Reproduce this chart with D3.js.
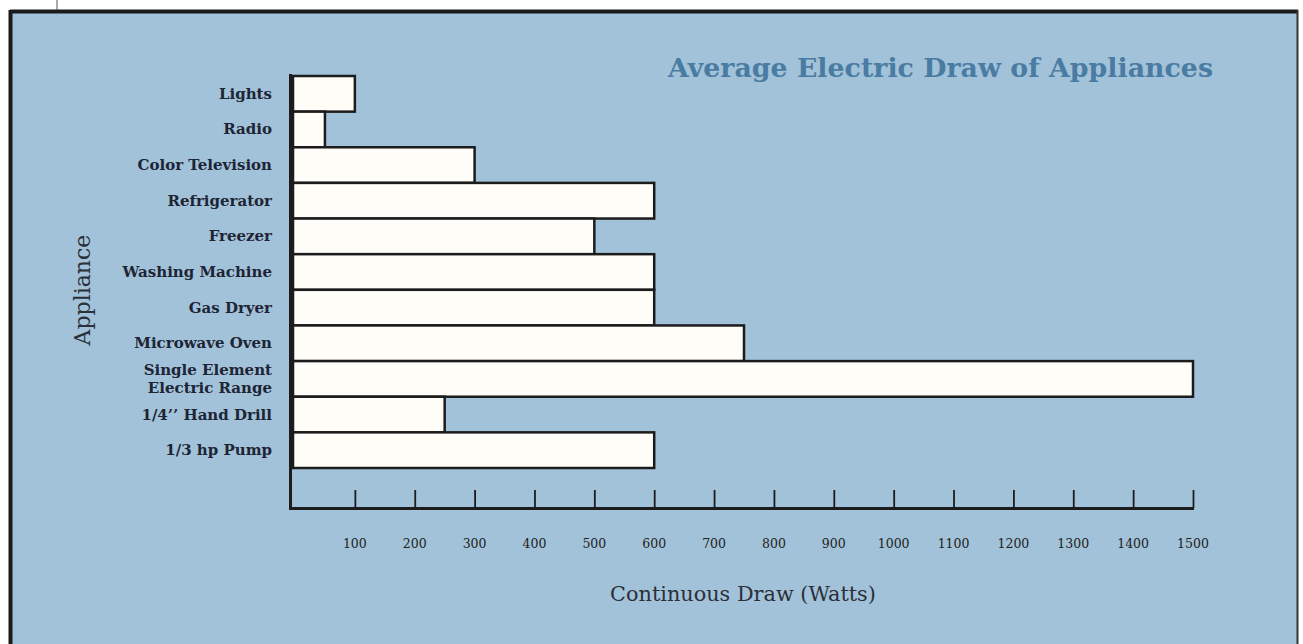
<!DOCTYPE html>
<html><head><meta charset="utf-8">
<script src="https://cdn.jsdelivr.net/npm/d3@7/dist/d3.min.js"></script>
<style>html,body{margin:0;padding:0;background:#fff;}svg{display:block;}</style>
</head><body>
<script>
const categories = ["Lights","Radio","Color Television","Refrigerator","Freezer","Washing Machine","Gas Dryer","Microwave Oven","Single Element\nElectric Range","1/4\u2019\u2019 Hand Drill","1/3 hp Pump"];
const watts = [100, 50, 300, 600, 500, 600, 600, 750, 1500, 250, 600];
const tickValues = [100,200,300,400,500,600,700,800,900,1000,1100,1200,1300,1400,1500];
const title = "Average Electric Draw of Appliances";
const xTitle = "Continuous Draw (Watts)";
const yTitle = "Appliance";

const W = 1303, H = 644;
const svg = d3.select("body").append("svg").attr("width", W).attr("height", H);
const serif = "'DejaVu Serif','Liberation Serif',serif";

// panel background
svg.append("rect").attr("x",10).attr("y",11).attr("width",1288).attr("height",H)
  .attr("fill","#a2c2d9");
// frame
svg.append("line").attr("x1",10).attr("x2",1298).attr("y1",11.5).attr("y2",11.5).attr("stroke","#1a1a1a").attr("stroke-width",4);
svg.append("line").attr("x1",10.5).attr("x2",10.5).attr("y1",10).attr("y2",H).attr("stroke","#1a1a1a").attr("stroke-width",4);
svg.append("line").attr("x1",1297.5).attr("x2",1297.5).attr("y1",10).attr("y2",H).attr("stroke","#333").attr("stroke-width",2);
svg.append("line").attr("x1",57).attr("x2",57).attr("y1",0).attr("y2",10).attr("stroke","#555").attr("stroke-width",1);

const x = d3.scaleLinear().domain([0,1500]).range([295,1193]);
const y = d3.scaleBand().domain(categories).range([76,468]).padding(0);

// bars
svg.append("g").selectAll("rect").data(categories).join("rect")
  .attr("x", x(0)-2)
  .attr("y", d => y(d))
  .attr("width", (d,i) => x(watts[i]) - x(0) + 2)
  .attr("height", y.bandwidth())
  .attr("fill","#fefdf8").attr("stroke","#1c1c1c").attr("stroke-width",2.5);

// x axis with upward ticks
const xAxis = d3.axisBottom(x).tickValues(tickValues).tickSize(-18).tickFormat("");
const gx = svg.append("g").attr("transform","translate(0,508)").call(xAxis);
gx.select(".domain").remove();
gx.selectAll(".tick line").attr("stroke","#1c1c1c").attr("stroke-width",1.8);
svg.append("line").attr("x1",289).attr("x2",x(1500)+1).attr("y1",508.5).attr("y2",508.5).attr("stroke","#1c1c1c").attr("stroke-width",3);
svg.append("line").attr("x1",290.5).attr("x2",290.5).attr("y1",74).attr("y2",510).attr("stroke","#1c1c1c").attr("stroke-width",3);

// tick labels
svg.append("g").selectAll("text").data(tickValues).join("text")
  .attr("x", d => x(d)).attr("y", 548)
  .attr("text-anchor","middle").attr("font-family",serif).attr("font-size",12.5)
  .attr("fill","#222").text(d => d);

// category labels
const lab = svg.append("g").selectAll("text").data(categories).join("text")
  .attr("text-anchor","end").attr("font-family",serif).attr("font-weight","bold")
  .attr("font-size",15).attr("fill","#1d2535")
  .attr("x",272)
  .attr("y", d => y(d) + y.bandwidth()/2 + 5);
lab.each(function(d){
  const parts = d.split("\n");
  const t = d3.select(this);
  if (parts.length === 1) { t.text(d); }
  else {
    t.attr("y", y(d) + y.bandwidth()/2 + 5 - 9);
    parts.forEach((p,i) => t.append("tspan").attr("x",272).attr("dy", i===0?0:18).text(p));
  }
});

// titles
svg.append("text").attr("x",1213).attr("y",77).attr("text-anchor","end")
  .attr("font-family",serif).attr("font-weight","bold").attr("font-size",26.8)
  .attr("fill","#4a7ca3").text(title);
svg.append("text").attr("x",743).attr("y",601).attr("text-anchor","middle")
  .attr("font-family",serif).attr("font-size",20.8).attr("fill","#2a2f38").text(xTitle);
svg.append("text").attr("transform","translate(90,290) rotate(-90)").attr("text-anchor","middle")
  .attr("font-family",serif).attr("font-size",22).attr("fill","#2a2f38").text(yTitle);
</script>
</body></html>
